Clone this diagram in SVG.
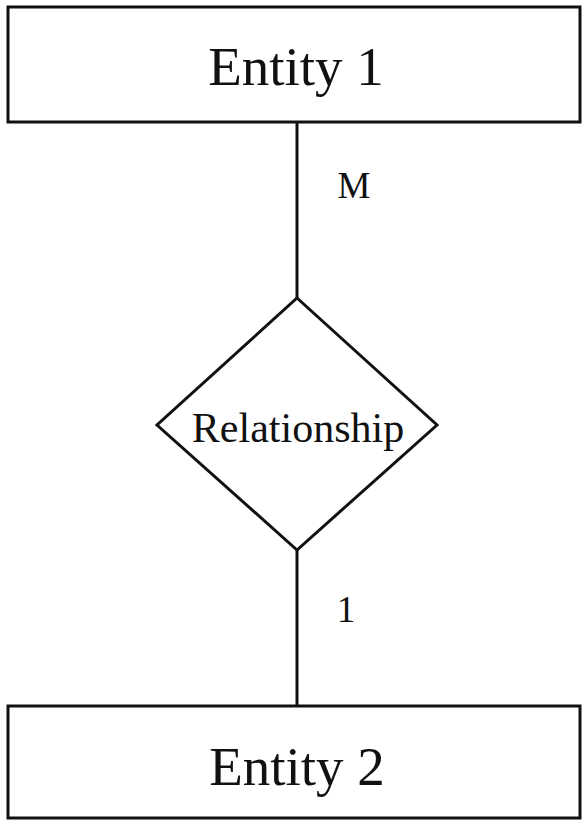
<svg xmlns="http://www.w3.org/2000/svg" width="587" height="824" viewBox="0 0 587 824">
<style>
.box{fill:#fff;stroke:#111;stroke-width:3}
.ln{stroke:#111;stroke-width:3;fill:none}
.t{font-family:"Liberation Serif","Times New Roman",serif;fill:#111;text-anchor:middle}
</style>
<rect width="587" height="824" fill="#fff"/>
<g id="connectors">
<line class="ln" x1="297" y1="122" x2="297" y2="298"/>
<line class="ln" x1="297" y1="550" x2="297" y2="706"/>
<text class="t" x="354" y="198" font-size="37">M</text>
<text class="t" x="346" y="622" font-size="37">1</text>
</g>
<g id="entity1">
<rect class="box" x="8" y="7" width="572" height="115"/>
<text class="t" x="296" y="85" font-size="55">Entity 1</text>
</g>
<g id="relationship">
<polygon class="box" points="297,298 437,425 297,550 157,425"/>
<text class="t" x="298" y="442" font-size="42">Relationship</text>
</g>
<g id="entity2">
<rect class="box" x="8" y="706" width="572" height="112"/>
<text class="t" x="297" y="785" font-size="55">Entity 2</text>
</g>
</svg>
